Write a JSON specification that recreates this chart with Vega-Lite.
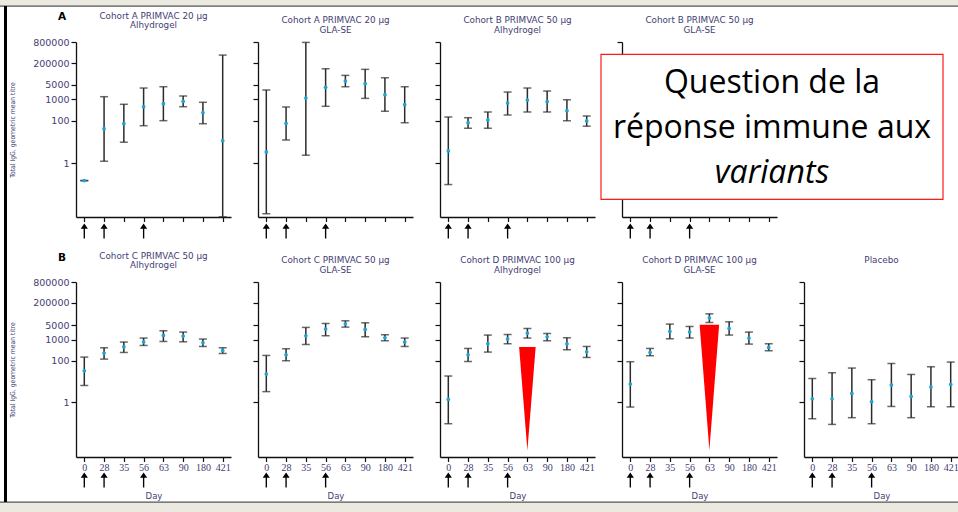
{
"$schema": "https://vega.github.io/schema/vega-lite/v6.json",
"padding": 0,
"background": "white",
"datasets": {
"gmt": [
{"panel":"A1","day":"0","gmt":0.152,"lo":0.152,"hi":0.152},
{"panel":"A1","day":"28","gmt":42,"lo":1.24,"hi":1340},
{"panel":"A1","day":"35","gmt":72,"lo":9.7,"hi":589},
{"panel":"A1","day":"56","gmt":454,"lo":58,"hi":3430},
{"panel":"A1","day":"63","gmt":628,"lo":100,"hi":3945},
{"panel":"A1","day":"90","gmt":815,"lo":454,"hi":1445},
{"panel":"A1","day":"180","gmt":238,"lo":72,"hi":731},
{"panel":"A1","day":"421","gmt":11.5,"lo":0.003,"hi":121600},
{"panel":"A2","day":"0","gmt":3.39,"lo":0.0042,"hi":2770},
{"panel":"A2","day":"28","gmt":75.5,"lo":12.4,"hi":440},
{"panel":"A2","day":"35","gmt":1163,"lo":2.38,"hi":480000},
{"panel":"A2","day":"56","gmt":3700,"lo":474,"hi":27600},
{"panel":"A2","day":"63","gmt":7300,"lo":3945,"hi":13500},
{"panel":"A2","day":"90","gmt":5460,"lo":1120,"hi":25900},
{"panel":"A2","day":"180","gmt":1660,"lo":276,"hi":10400},
{"panel":"A2","day":"421","gmt":564,"lo":80,"hi":3945},
{"panel":"B1","day":"0","gmt":3.78,"lo":0.099,"hi":149},
{"panel":"B1","day":"28","gmt":80.5,"lo":44,"hi":138},
{"panel":"B1","day":"35","gmt":108,"lo":44,"hi":256},
{"panel":"B1","day":"56","gmt":678,"lo":185,"hi":2220},
{"panel":"B1","day":"63","gmt":937,"lo":256,"hi":3430},
{"panel":"B1","day":"90","gmt":780,"lo":256,"hi":2480},
{"panel":"B1","day":"180","gmt":295,"lo":100,"hi":968},
{"panel":"B1","day":"421","gmt":97,"lo":55,"hi":166},
{"panel":"C1","day":"0","gmt":33,"lo":6.5,"hi":150},
{"panel":"C1","day":"28","gmt":234,"lo":120,"hi":420},
{"panel":"C1","day":"35","gmt":468,"lo":250,"hi":788},
{"panel":"C1","day":"56","gmt":815,"lo":542,"hi":1230},
{"panel":"C1","day":"63","gmt":1633,"lo":843,"hi":2750},
{"panel":"C1","day":"90","gmt":1530,"lo":815,"hi":2380},
{"panel":"C1","day":"180","gmt":730,"lo":485,"hi":1100},
{"panel":"C1","day":"421","gmt":312,"lo":224,"hi":420},
{"panel":"C2","day":"0","gmt":23,"lo":3.3,"hi":180},
{"panel":"C2","day":"28","gmt":194,"lo":100,"hi":377},
{"panel":"C2","day":"35","gmt":1585,"lo":604,"hi":3980},
{"panel":"C2","day":"56","gmt":3310,"lo":1585,"hi":6160},
{"panel":"C2","day":"63","gmt":5960,"lo":4130,"hi":8280},
{"panel":"C2","day":"90","gmt":3170,"lo":1417,"hi":6650},
{"panel":"C2","day":"180","gmt":1270,"lo":910,"hi":1766},
{"panel":"C2","day":"421","gmt":788,"lo":485,"hi":1230},
{"panel":"D1","day":"0","gmt":1.39,"lo":0.095,"hi":18.5},
{"panel":"D1","day":"28","gmt":194,"lo":92,"hi":390},
{"panel":"D1","day":"35","gmt":654,"lo":261,"hi":1710},
{"panel":"D1","day":"56","gmt":1100,"lo":654,"hi":1820},
{"panel":"D1","day":"63","gmt":2130,"lo":1230,"hi":3540},
{"panel":"D1","day":"90","gmt":1417,"lo":910,"hi":2040},
{"panel":"D1","day":"180","gmt":654,"lo":337,"hi":1270},
{"panel":"D1","day":"421","gmt":270,"lo":144,"hi":485},
{"panel":"D2","day":"0","gmt":7.6,"lo":0.6,"hi":90},
{"panel":"D2","day":"28","gmt":250,"lo":174,"hi":390},
{"panel":"D2","day":"35","gmt":2540,"lo":1135,"hi":5760},
{"panel":"D2","day":"56","gmt":2380,"lo":1230,"hi":4420},
{"panel":"D2","day":"63","gmt":11500,"lo":6870,"hi":17900},
{"panel":"D2","day":"90","gmt":3540,"lo":1710,"hi":7420},
{"panel":"D2","day":"180","gmt":1230,"lo":630,"hi":2380},
{"panel":"D2","day":"421","gmt":434,"lo":302,"hi":654},
{"panel":"P","day":"0","gmt":1.5,"lo":0.165,"hi":14.2},
{"panel":"P","day":"28","gmt":1.5,"lo":0.088,"hi":26.6},
{"panel":"P","day":"35","gmt":2.7,"lo":0.185,"hi":44.7},
{"panel":"P","day":"56","gmt":1.08,"lo":0.095,"hi":12.3},
{"panel":"P","day":"63","gmt":6.8,"lo":0.64,"hi":74},
{"panel":"P","day":"90","gmt":1.94,"lo":0.185,"hi":22},
{"panel":"P","day":"180","gmt":5.5,"lo":0.62,"hi":51.5},
{"panel":"P","day":"421","gmt":7.3,"lo":0.62,"hi":86.7}
],
"vacc": [{"day":"0"},{"day":"28"},{"day":"56"}],
"ptr": [{"panel":"D1","day":"63","gmt":1.5},{"panel":"D2","day":"63","gmt":5.2}],
"one": [{"k":1}]
},
"columns": 5,
"spacing": {"row": 65, "column": 27},
"bounds": "flush",
"concat": [
{
"width":155,"height":175,
"title":{"text":["Cohort A PRIMVAC 20 µg","Alhydrogel"],"frame":"group"},
"layer":[
{"data":{"name":"gmt"},"transform":[{"filter":"datum.panel=='A1'"}],"mark":"rule","encoding":{"x":{"field":"day","type":"ordinal","scale":{"type":"point","domain":["0","28","35","56","63","90","180","421"],"padding":0.42},"axis":{"labels":false,"title":null}},"y":{"field":"lo","type":"quantitative","scale":{"type":"log","domain":[0.00295,501000],"nice":false},"axis":{"values":[1,100,1000,5000,50000,500000],"labelExpr":"datum.value > 300000 ? '800000' : datum.value > 20000 ? '200000' : format(datum.value, 'd')","labelOverlap":false,"title":"Total IgG, geometric mean titre"}},"y2":{"field":"hi"}}},
{"data":{"name":"gmt"},"transform":[{"filter":"datum.panel=='A1'"}],"mark":{"type":"tick","size":8},"encoding":{"x":{"field":"day","type":"ordinal"},"y":{"field":"lo","type":"quantitative"}}},
{"data":{"name":"gmt"},"transform":[{"filter":"datum.panel=='A1'"}],"mark":{"type":"tick","size":8},"encoding":{"x":{"field":"day","type":"ordinal"},"y":{"field":"hi","type":"quantitative"}}},
{"data":{"name":"gmt"},"transform":[{"filter":"datum.panel=='A1'"}],"mark":{"type":"point","size":14,"color":"#1ea5d6"},"encoding":{"x":{"field":"day","type":"ordinal"},"y":{"field":"gmt","type":"quantitative"}}},
{"data":{"name":"vacc"},"mark":{"type":"point","shape":"M0,-1L0.48,-0.3L0.09,-0.3L0.09,1L-0.09,1L-0.09,-0.3L-0.48,-0.3Z","size":225,"color":"#000","strokeOpacity":0},"encoding":{"x":{"field":"day","type":"ordinal"},"y":{"value":189}}}
]
},
{
"width":155,"height":175,
"title":{"text":["Cohort A PRIMVAC 20 µg","GLA-SE"],"frame":"group"},
"layer":[
{"data":{"name":"gmt"},"transform":[{"filter":"datum.panel=='A2'"}],"mark":"rule","encoding":{"x":{"field":"day","type":"ordinal","scale":{"type":"point","domain":["0","28","35","56","63","90","180","421"],"padding":0.42},"axis":{"labels":false,"title":null}},"y":{"field":"lo","type":"quantitative","scale":{"type":"log","domain":[0.00295,501000],"nice":false},"axis":{"values":[1,100,1000,5000,50000,500000],"labels":false,"title":null}},"y2":{"field":"hi"}}},
{"data":{"name":"gmt"},"transform":[{"filter":"datum.panel=='A2'"}],"mark":{"type":"tick","size":8},"encoding":{"x":{"field":"day","type":"ordinal"},"y":{"field":"lo","type":"quantitative"}}},
{"data":{"name":"gmt"},"transform":[{"filter":"datum.panel=='A2'"}],"mark":{"type":"tick","size":8},"encoding":{"x":{"field":"day","type":"ordinal"},"y":{"field":"hi","type":"quantitative"}}},
{"data":{"name":"gmt"},"transform":[{"filter":"datum.panel=='A2'"}],"mark":{"type":"point","size":14,"color":"#1ea5d6"},"encoding":{"x":{"field":"day","type":"ordinal"},"y":{"field":"gmt","type":"quantitative"}}},
{"data":{"name":"vacc"},"mark":{"type":"point","shape":"M0,-1L0.48,-0.3L0.09,-0.3L0.09,1L-0.09,1L-0.09,-0.3L-0.48,-0.3Z","size":225,"color":"#000","strokeOpacity":0},"encoding":{"x":{"field":"day","type":"ordinal"},"y":{"value":189}}}
]
},
{
"width":155,"height":175,
"title":{"text":["Cohort B PRIMVAC 50 µg","Alhydrogel"],"frame":"group"},
"layer":[
{"data":{"name":"gmt"},"transform":[{"filter":"datum.panel=='B1'"}],"mark":"rule","encoding":{"x":{"field":"day","type":"ordinal","scale":{"type":"point","domain":["0","28","35","56","63","90","180","421"],"padding":0.42},"axis":{"labels":false,"title":null}},"y":{"field":"lo","type":"quantitative","scale":{"type":"log","domain":[0.00295,501000],"nice":false},"axis":{"values":[1,100,1000,5000,50000,500000],"labels":false,"title":null}},"y2":{"field":"hi"}}},
{"data":{"name":"gmt"},"transform":[{"filter":"datum.panel=='B1'"}],"mark":{"type":"tick","size":8},"encoding":{"x":{"field":"day","type":"ordinal"},"y":{"field":"lo","type":"quantitative"}}},
{"data":{"name":"gmt"},"transform":[{"filter":"datum.panel=='B1'"}],"mark":{"type":"tick","size":8},"encoding":{"x":{"field":"day","type":"ordinal"},"y":{"field":"hi","type":"quantitative"}}},
{"data":{"name":"gmt"},"transform":[{"filter":"datum.panel=='B1'"}],"mark":{"type":"point","size":14,"color":"#1ea5d6"},"encoding":{"x":{"field":"day","type":"ordinal"},"y":{"field":"gmt","type":"quantitative"}}},
{"data":{"name":"vacc"},"mark":{"type":"point","shape":"M0,-1L0.48,-0.3L0.09,-0.3L0.09,1L-0.09,1L-0.09,-0.3L-0.48,-0.3Z","size":225,"color":"#000","strokeOpacity":0},"encoding":{"x":{"field":"day","type":"ordinal"},"y":{"value":189}}}
]
},
{
"width":155,"height":175,
"title":{"text":["Cohort B PRIMVAC 50 µg","GLA-SE"],"frame":"group"},
"layer":[
{"data":{"name":"gmt"},"transform":[{"filter":"datum.panel=='B2'"}],"mark":"rule","encoding":{"x":{"field":"day","type":"ordinal","scale":{"type":"point","domain":["0","28","35","56","63","90","180","421"],"padding":0.42},"axis":{"labels":false,"title":null}},"y":{"field":"lo","type":"quantitative","scale":{"type":"log","domain":[0.00295,501000],"nice":false},"axis":{"values":[1,100,1000,5000,50000,500000],"labels":false,"title":null}},"y2":{"field":"hi"}}},
{"data":{"name":"vacc"},"mark":{"type":"point","shape":"M0,-1L0.48,-0.3L0.09,-0.3L0.09,1L-0.09,1L-0.09,-0.3L-0.48,-0.3Z","size":225,"color":"#000","strokeOpacity":0},"encoding":{"x":{"field":"day","type":"ordinal"},"y":{"value":189}}},
{"data":{"name":"one"},"mark":{"type":"rect","fill":"#ffffff","stroke":"#ff1a1a","strokeWidth":1.2},"encoding":{"x":{"value":-21},"x2":{"value":321},"y":{"value":12.3},"y2":{"value":157.3}}},
{"data":{"name":"one"},"mark":{"type":"text","text":"Question de la","font":"Open Sans","fontSize":32,"color":"#000","align":"center","baseline":"alphabetic"},"encoding":{"x":{"value":150},"y":{"value":51.3}}},
{"data":{"name":"one"},"mark":{"type":"text","text":"réponse immune aux","font":"Open Sans","fontSize":32,"color":"#000","align":"center","baseline":"alphabetic"},"encoding":{"x":{"value":150},"y":{"value":96.3}}},
{"data":{"name":"one"},"mark":{"type":"text","text":"variants","font":"Open Sans","fontStyle":"italic","fontSize":32,"color":"#000","align":"center","baseline":"alphabetic"},"encoding":{"x":{"value":150},"y":{"value":141.3}}}
]
},
{
"width":155,"height":175,
"layer":[
{"data":{"name":"one"},"mark":{"type":"rect","color":"#ebe9e0"},"encoding":{"x":{"value":-804},"x2":{"value":154},"y":{"value":-42},"y2":{"value":-36}}},
{"data":{"name":"one"},"mark":{"type":"rect","color":"#555555"},"encoding":{"x":{"value":-804},"x2":{"value":154},"y":{"value":-36.5},"y2":{"value":-35.3}}},
{"data":{"name":"one"},"mark":{"type":"rect","color":"#ebe9e0"},"encoding":{"x":{"value":-804},"x2":{"value":154},"y":{"value":460},"y2":{"value":470}}},
{"data":{"name":"one"},"mark":{"type":"rect","color":"#555555"},"encoding":{"x":{"value":-804},"x2":{"value":154},"y":{"value":459.5},"y2":{"value":460.7}}},
{"data":{"name":"one"},"mark":{"type":"rect","color":"#000000"},"encoding":{"x":{"value":-800},"x2":{"value":-797},"y":{"value":-36},"y2":{"value":460}}},
{"data":{"name":"one"},"mark":{"type":"text","text":"A","font":"DejaVu Sans","fontWeight":"bold","fontSize":10.5,"color":"#000"},"encoding":{"x":{"value":-742},"y":{"value":-25}}},
{"data":{"name":"one"},"mark":{"type":"text","text":"B","font":"DejaVu Sans","fontWeight":"bold","fontSize":10.5,"color":"#000"},"encoding":{"x":{"value":-742},"y":{"value":216}}}
]
},
{
"width":155,"height":175,
"title":{"text":["Cohort C PRIMVAC 50 µg","Alhydrogel"],"frame":"group"},
"layer":[
{"data":{"name":"gmt"},"transform":[{"filter":"datum.panel=='C1'"}],"mark":"rule","encoding":{"x":{"field":"day","type":"ordinal","scale":{"type":"point","domain":["0","28","35","56","63","90","180","421"],"padding":0.42},"axis":{"title":"Day","labelOverlap":false}},"y":{"field":"lo","type":"quantitative","scale":{"type":"log","domain":[0.0024,603000],"nice":false},"axis":{"values":[1,100,1000,5000,62000,600000],"labelExpr":"datum.value > 300000 ? '800000' : datum.value > 20000 ? '200000' : format(datum.value, 'd')","labelOverlap":false,"title":"Total IgG, geometric mean titre"}},"y2":{"field":"hi"}}},
{"data":{"name":"gmt"},"transform":[{"filter":"datum.panel=='C1'"}],"mark":{"type":"tick","size":8},"encoding":{"x":{"field":"day","type":"ordinal"},"y":{"field":"lo","type":"quantitative"}}},
{"data":{"name":"gmt"},"transform":[{"filter":"datum.panel=='C1'"}],"mark":{"type":"tick","size":8},"encoding":{"x":{"field":"day","type":"ordinal"},"y":{"field":"hi","type":"quantitative"}}},
{"data":{"name":"gmt"},"transform":[{"filter":"datum.panel=='C1'"}],"mark":{"type":"point","size":14,"color":"#1ea5d6"},"encoding":{"x":{"field":"day","type":"ordinal"},"y":{"field":"gmt","type":"quantitative"}}},
{"data":{"name":"vacc"},"mark":{"type":"point","shape":"M0,-1L0.48,-0.3L0.09,-0.3L0.09,1L-0.09,1L-0.09,-0.3L-0.48,-0.3Z","size":225,"color":"#000","strokeOpacity":0},"encoding":{"x":{"field":"day","type":"ordinal"},"y":{"value":198}}}
]
},
{
"width":155,"height":175,
"title":{"text":["Cohort C PRIMVAC 50 µg","GLA-SE"],"frame":"group"},
"layer":[
{"data":{"name":"gmt"},"transform":[{"filter":"datum.panel=='C2'"}],"mark":"rule","encoding":{"x":{"field":"day","type":"ordinal","scale":{"type":"point","domain":["0","28","35","56","63","90","180","421"],"padding":0.42},"axis":{"title":"Day","labelOverlap":false}},"y":{"field":"lo","type":"quantitative","scale":{"type":"log","domain":[0.0024,603000],"nice":false},"axis":{"values":[1,100,1000,5000,62000,600000],"labels":false,"title":null}},"y2":{"field":"hi"}}},
{"data":{"name":"gmt"},"transform":[{"filter":"datum.panel=='C2'"}],"mark":{"type":"tick","size":8},"encoding":{"x":{"field":"day","type":"ordinal"},"y":{"field":"lo","type":"quantitative"}}},
{"data":{"name":"gmt"},"transform":[{"filter":"datum.panel=='C2'"}],"mark":{"type":"tick","size":8},"encoding":{"x":{"field":"day","type":"ordinal"},"y":{"field":"hi","type":"quantitative"}}},
{"data":{"name":"gmt"},"transform":[{"filter":"datum.panel=='C2'"}],"mark":{"type":"point","size":14,"color":"#1ea5d6"},"encoding":{"x":{"field":"day","type":"ordinal"},"y":{"field":"gmt","type":"quantitative"}}},
{"data":{"name":"vacc"},"mark":{"type":"point","shape":"M0,-1L0.48,-0.3L0.09,-0.3L0.09,1L-0.09,1L-0.09,-0.3L-0.48,-0.3Z","size":225,"color":"#000","strokeOpacity":0},"encoding":{"x":{"field":"day","type":"ordinal"},"y":{"value":198}}}
]
},
{
"width":155,"height":175,
"title":{"text":["Cohort D PRIMVAC 100 µg","Alhydrogel"],"frame":"group"},
"layer":[
{"data":{"name":"gmt"},"transform":[{"filter":"datum.panel=='D1'"}],"mark":"rule","encoding":{"x":{"field":"day","type":"ordinal","scale":{"type":"point","domain":["0","28","35","56","63","90","180","421"],"padding":0.42},"axis":{"title":"Day","labelOverlap":false}},"y":{"field":"lo","type":"quantitative","scale":{"type":"log","domain":[0.0024,603000],"nice":false},"axis":{"values":[1,100,1000,5000,62000,600000],"labels":false,"title":null}},"y2":{"field":"hi"}}},
{"data":{"name":"gmt"},"transform":[{"filter":"datum.panel=='D1'"}],"mark":{"type":"tick","size":8},"encoding":{"x":{"field":"day","type":"ordinal"},"y":{"field":"lo","type":"quantitative"}}},
{"data":{"name":"gmt"},"transform":[{"filter":"datum.panel=='D1'"}],"mark":{"type":"tick","size":8},"encoding":{"x":{"field":"day","type":"ordinal"},"y":{"field":"hi","type":"quantitative"}}},
{"data":{"name":"gmt"},"transform":[{"filter":"datum.panel=='D1'"}],"mark":{"type":"point","size":14,"color":"#1ea5d6"},"encoding":{"x":{"field":"day","type":"ordinal"},"y":{"field":"gmt","type":"quantitative"}}},
{"data":{"name":"ptr"},"transform":[{"filter":"datum.panel=='D1'"}],"mark":{"type":"point","shape":"M-0.16,-1L0.16,-1L0,1Z","size":10690,"color":"#ff0000","strokeOpacity":0},"encoding":{"x":{"field":"day","type":"ordinal"},"y":{"field":"gmt","type":"quantitative"}}},
{"data":{"name":"vacc"},"mark":{"type":"point","shape":"M0,-1L0.48,-0.3L0.09,-0.3L0.09,1L-0.09,1L-0.09,-0.3L-0.48,-0.3Z","size":225,"color":"#000","strokeOpacity":0},"encoding":{"x":{"field":"day","type":"ordinal"},"y":{"value":198}}}
]
},
{
"width":155,"height":175,
"title":{"text":["Cohort D PRIMVAC 100 µg","GLA-SE"],"frame":"group"},
"layer":[
{"data":{"name":"gmt"},"transform":[{"filter":"datum.panel=='D2'"}],"mark":"rule","encoding":{"x":{"field":"day","type":"ordinal","scale":{"type":"point","domain":["0","28","35","56","63","90","180","421"],"padding":0.42},"axis":{"title":"Day","labelOverlap":false}},"y":{"field":"lo","type":"quantitative","scale":{"type":"log","domain":[0.0024,603000],"nice":false},"axis":{"values":[1,100,1000,5000,62000,600000],"labels":false,"title":null}},"y2":{"field":"hi"}}},
{"data":{"name":"gmt"},"transform":[{"filter":"datum.panel=='D2'"}],"mark":{"type":"tick","size":8},"encoding":{"x":{"field":"day","type":"ordinal"},"y":{"field":"lo","type":"quantitative"}}},
{"data":{"name":"gmt"},"transform":[{"filter":"datum.panel=='D2'"}],"mark":{"type":"tick","size":8},"encoding":{"x":{"field":"day","type":"ordinal"},"y":{"field":"hi","type":"quantitative"}}},
{"data":{"name":"gmt"},"transform":[{"filter":"datum.panel=='D2'"}],"mark":{"type":"point","size":14,"color":"#1ea5d6"},"encoding":{"x":{"field":"day","type":"ordinal"},"y":{"field":"gmt","type":"quantitative"}}},
{"data":{"name":"ptr"},"transform":[{"filter":"datum.panel=='D2'"}],"mark":{"type":"point","shape":"M-0.155,-1L0.155,-1L0,1Z","size":15800,"color":"#ff0000","strokeOpacity":0},"encoding":{"x":{"field":"day","type":"ordinal"},"y":{"field":"gmt","type":"quantitative"}}},
{"data":{"name":"vacc"},"mark":{"type":"point","shape":"M0,-1L0.48,-0.3L0.09,-0.3L0.09,1L-0.09,1L-0.09,-0.3L-0.48,-0.3Z","size":225,"color":"#000","strokeOpacity":0},"encoding":{"x":{"field":"day","type":"ordinal"},"y":{"value":198}}}
]
},
{
"width":155,"height":175,
"title":{"text":["Placebo"," "],"frame":"group"},
"layer":[
{"data":{"name":"gmt"},"transform":[{"filter":"datum.panel=='P'"}],"mark":"rule","encoding":{"x":{"field":"day","type":"ordinal","scale":{"type":"point","domain":["0","28","35","56","63","90","180","421"],"padding":0.42},"axis":{"title":"Day","labelOverlap":false}},"y":{"field":"lo","type":"quantitative","scale":{"type":"log","domain":[0.0024,603000],"nice":false},"axis":{"values":[1,100,1000,5000,62000,600000],"labels":false,"title":null}},"y2":{"field":"hi"}}},
{"data":{"name":"gmt"},"transform":[{"filter":"datum.panel=='P'"}],"mark":{"type":"tick","size":8},"encoding":{"x":{"field":"day","type":"ordinal"},"y":{"field":"lo","type":"quantitative"}}},
{"data":{"name":"gmt"},"transform":[{"filter":"datum.panel=='P'"}],"mark":{"type":"tick","size":8},"encoding":{"x":{"field":"day","type":"ordinal"},"y":{"field":"hi","type":"quantitative"}}},
{"data":{"name":"gmt"},"transform":[{"filter":"datum.panel=='P'"}],"mark":{"type":"point","size":14,"color":"#1ea5d6"},"encoding":{"x":{"field":"day","type":"ordinal"},"y":{"field":"gmt","type":"quantitative"}}},
{"data":{"name":"vacc"},"mark":{"type":"point","shape":"M0,-1L0.48,-0.3L0.09,-0.3L0.09,1L-0.09,1L-0.09,-0.3L-0.48,-0.3Z","size":225,"color":"#000","strokeOpacity":0},"encoding":{"x":{"field":"day","type":"ordinal"},"y":{"value":198}}}
]
}
],
"config": {
"view": {"stroke": null},
"font": "DejaVu Sans",
"axis": {"domainColor": "#111111", "domainWidth": 1.3, "tickColor": "#111111", "tickWidth": 1.2, "grid": false, "labelFont": "DejaVu Sans", "labelColor": "#3f3d72", "titleColor": "#3f3d72", "titleFontWeight": "normal"},
"axisX": {"tickSize": 4.5, "labelAngle": 0, "labelFont": "Liberation Serif", "labelFontSize": 10, "labelPadding": 1, "titleFont": "DejaVu Sans", "titleFontSize": 8.5, "titlePadding": 19},
"axisY": {"tickSize": 5, "labelFontSize": 9.5, "labelPadding": 2, "titleFont": "DejaVu Sans Condensed", "titleFontSize": 6.8, "titlePadding": 17},
"title": {"frame": "group", "font": "DejaVu Sans", "fontSize": 8.8, "fontWeight": "normal", "color": "#3f3d72", "lineHeight": 9.5, "offset": 7},
"rule": {"color": "#2b2b2b", "strokeWidth": 1.5},
"tick": {"color": "#2b2b2b", "thickness": 1.5},
"point": {"filled": true, "opacity": 1}
}
}
